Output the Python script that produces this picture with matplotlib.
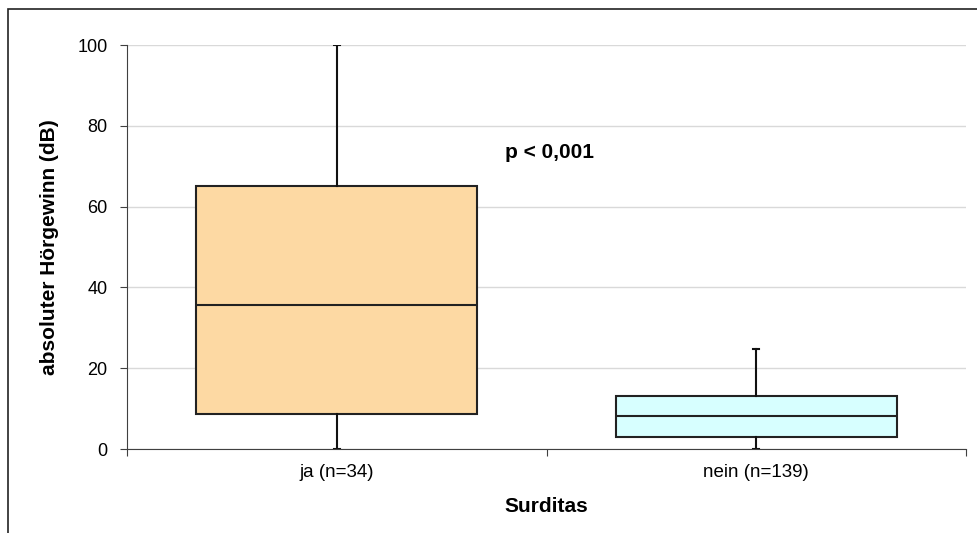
import matplotlib.pyplot as plt
from matplotlib.patches import Rectangle

plt.rcParams['font.family'] = ['Liberation Sans', 'DejaVu Sans']

# box statistics per group (dB)
groups = ["ja (n=34)", "nein (n=139)"]
whisker_low = [0, 0]
q1 = [8.6, 3.0]
median = [35.6, 8.1]
q3 = [65.0, 13.2]
whisker_high = [100, 24.8]
colors = ["#fdd9a3", "#d7ffff"]

fig = plt.figure(figsize=(9.78, 5.33), dpi=100)
ax = fig.add_axes([127 / 978, 84 / 533, 839 / 978, 404 / 533])

# outer frame of the chart area
fig.patches.append(Rectangle((8 / 978, -0.1), 1.2, (524 / 533) + 0.1,
                             transform=fig.transFigure, fill=False,
                             edgecolor="#222222", linewidth=1.2))

stats = []
for i, g in enumerate(groups):
    stats.append(dict(label=g, whislo=whisker_low[i], q1=q1[i], med=median[i],
                      q3=q3[i], whishi=whisker_high[i], fliers=[]))

bp = ax.bxp(stats, positions=[1, 2], widths=0.67, patch_artist=True,
            showfliers=False, capwidths=0.015,
            boxprops=dict(edgecolor="#222222", linewidth=1.5),
            medianprops=dict(color="#222222", linewidth=1.5),
            whiskerprops=dict(color="#111111", linewidth=1.5),
            capprops=dict(color="#111111", linewidth=1.5))
for patch, c in zip(bp["boxes"], colors):
    patch.set_facecolor(c)

ax.set_xlim(0.5, 2.5)
ax.set_ylim(0, 100)
ax.set_yticks([0, 20, 40, 60, 80, 100])
ax.yaxis.grid(True, color="#d9d9d9", linewidth=1)
ax.set_axisbelow(True)

ax.set_xticks([0.5, 1.5, 2.5])
ax.set_xticklabels([])
ax.set_xticks([1, 2], minor=True)
ax.set_xticklabels(groups, minor=True)
ax.tick_params(axis="x", which="minor", length=0, pad=11, labelsize=13.5)
ax.tick_params(axis="x", which="major", length=5, color="#404040")
ax.tick_params(axis="y", length=5, color="#404040", labelsize=13, pad=9)

for s in ["top", "right"]:
    ax.spines[s].set_visible(False)
for s in ["left", "bottom"]:
    ax.spines[s].set_color("#404040")

ax.set_xlabel("Surditas", fontsize=15, fontweight="bold", labelpad=11)
ax.set_ylabel("absoluter Hörgewinn (dB)", fontsize=15, fontweight="bold", labelpad=13)

ax.text(1.40, 73.5, "p < 0,001", fontsize=15, fontweight="bold", va="center", ha="left")

fig.savefig("out.png", dpi=100)
